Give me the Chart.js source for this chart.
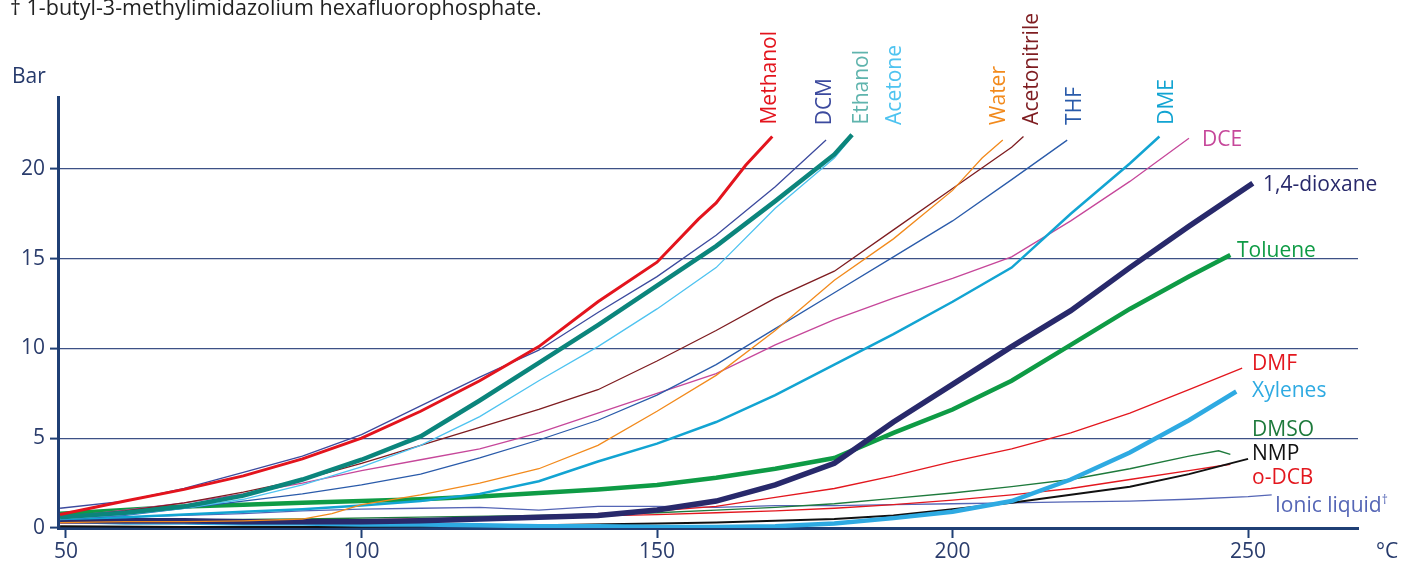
<!DOCTYPE html>
<html>
<head>
<meta charset="utf-8">
<script src="https://cdn.jsdelivr.net/npm/chart.js@4/dist/chart.umd.min.js"></script>
<style>
  body{margin:0;background:#fff;font-family:"Open Sans",sans-serif}
  #wrap{position:relative;width:1403px;height:564px;overflow:hidden}
  #c{position:absolute;left:0;top:0}
  .lbl{position:absolute;font-size:21px;line-height:24px;white-space:nowrap}
  .vlbl{position:absolute;font-size:21px;line-height:24px;white-space:nowrap;writing-mode:vertical-rl;transform:rotate(180deg);bottom:439px}
  .ax{position:absolute;color:#25396b;font-size:21px;line-height:24px}
  #cap{position:absolute;left:10px;top:-7px;font-size:21.5px;line-height:28px;color:#222}
</style>
</head>
<body>
<div id="wrap">
  <canvas id="c" width="1403" height="564"></canvas>
  <div id="cap">† 1-butyl-3-methylimidazolium hexafluorophosphate.</div>
  <div class="ax" style="left:12px;top:63px">Bar</div>
  <div class="ax" style="left:1376px;top:538px">°C</div>
  <div id="labels"></div>
</div>
<script>
// ---- Data (°C, bar) ----
const methanol     = [[49,0.75],[60,1.5],[70,2.15],[80,2.9],[90,3.85],[100,5.0],[110,6.5],[120,8.2],[130,10.1],[140,12.6],[150,14.8],[157,17.2],[160,18.1],[165,20.2],[169.5,21.8]];
const dcm          = [[49,1.1],[60,1.5],[70,2.2],[80,3.1],[90,4.0],[100,5.2],[110,6.8],[120,8.4],[130,9.9],[140,12.0],[150,14.0],[160,16.3],[170,19.0],[178.6,21.6]];
const ethanol      = [[49,0.6],[60,0.85],[70,1.2],[80,1.8],[90,2.7],[100,3.8],[110,5.1],[115,6.1],[120,7.1],[130,9.2],[140,11.3],[150,13.5],[160,15.7],[170,18.2],[180,20.8],[183,21.9]];
const acetone      = [[49,0.5],[60,0.75],[70,1.1],[80,1.6],[90,2.4],[100,3.4],[110,4.6],[120,6.2],[130,8.2],[140,10.1],[150,12.2],[160,14.5],[170,17.8],[180,20.6],[182.5,21.6]];
const water        = [[49,0.3],[60,0.35],[70,0.35],[80,0.4],[90,0.5],[95,0.8],[100,1.3],[110,1.85],[120,2.5],[130,3.3],[140,4.6],[150,6.5],[160,8.5],[170,11.0],[180,13.8],[190,16.1],[200,18.8],[205,20.6],[208.5,21.6]];
const acetonitrile = [[49,0.6],[60,0.95],[70,1.4],[80,2.0],[90,2.7],[100,3.6],[110,4.6],[120,5.6],[130,6.6],[140,7.7],[150,9.3],[160,11.0],[170,12.8],[180,14.3],[190,16.6],[200,18.9],[210,21.2],[212,21.8]];
const thf          = [[49,0.5],[60,0.7],[70,1.1],[80,1.5],[90,1.9],[100,2.4],[110,3.0],[120,3.9],[130,4.9],[140,6.0],[150,7.4],[160,9.1],[170,11.1],[180,13.1],[190,15.1],[200,17.1],[210,19.4],[219.4,21.6]];
const dme          = [[49,0.5],[60,0.6],[70,0.75],[80,0.9],[90,1.05],[100,1.25],[110,1.5],[120,1.9],[130,2.6],[140,3.7],[150,4.7],[160,5.9],[170,7.4],[180,9.1],[190,10.8],[200,12.6],[210,14.5],[220,17.5],[230,20.3],[235,21.8]];
const dce          = [[49,0.6],[60,1.0],[70,1.4],[80,1.9],[90,2.5],[100,3.2],[110,3.8],[120,4.4],[130,5.3],[140,6.4],[150,7.5],[160,8.6],[170,10.2],[180,11.6],[190,12.8],[200,13.9],[210,15.1],[220,17.1],[230,19.3],[240,21.7]];
const dioxane      = [[49,0.4],[60,0.4],[70,0.4],[80,0.35],[90,0.35],[100,0.35],[110,0.4],[120,0.5],[130,0.6],[140,0.7],[150,1.0],[160,1.5],[170,2.4],[180,3.6],[190,5.9],[200,8.0],[210,10.1],[220,12.1],[230,14.5],[240,16.8],[250.8,19.2]];
const toluene      = [[49,0.8],[60,1.0],[70,1.2],[80,1.3],[90,1.4],[100,1.5],[110,1.6],[120,1.75],[130,1.95],[140,2.15],[150,2.4],[160,2.8],[170,3.3],[180,3.9],[190,5.3],[200,6.6],[210,8.2],[220,10.2],[230,12.2],[240,14.0],[247,15.2]];
const dmf          = [[49,0.3],[60,0.3],[70,0.3],[80,0.3],[90,0.35],[100,0.4],[110,0.45],[120,0.5],[130,0.6],[140,0.8],[150,0.95],[160,1.2],[170,1.7],[180,2.2],[190,2.9],[200,3.7],[210,4.4],[220,5.3],[230,6.4],[240,7.7],[249,8.9]];
const xylenes      = [[49,0.4],[60,0.3],[70,0.3],[80,0.25],[90,0.25],[100,0.2],[110,0.2],[120,0.15],[130,0.1],[140,0.1],[150,0.05],[160,0.05],[170,0.1],[180,0.25],[190,0.55],[200,0.9],[210,1.5],[220,2.7],[230,4.2],[240,6.0],[248,7.6]];
const dmso         = [[49,0.4],[70,0.45],[90,0.5],[110,0.6],[130,0.7],[150,0.85],[160,1.0],[170,1.15],[180,1.35],[190,1.65],[200,1.95],[210,2.3],[220,2.7],[230,3.3],[240,4.0],[245,4.3],[247,4.1]];
const nmp          = [[49,0.1],[70,0.05],[90,0.05],[110,0.1],[130,0.15],[150,0.25],[160,0.3],[170,0.4],[180,0.5],[190,0.7],[200,1.05],[210,1.4],[220,1.85],[230,2.3],[240,3.0],[250,3.85]];
const odcb         = [[49,0.3],[70,0.35],[90,0.4],[110,0.5],[130,0.6],[150,0.75],[160,0.85],[170,0.95],[180,1.1],[190,1.3],[200,1.55],[210,1.85],[220,2.2],[230,2.7],[240,3.2],[247,3.55]];
const ionic        = [[49,0.5],[60,0.6],[70,0.7],[80,0.8],[90,0.95],[100,1.05],[110,1.1],[120,1.15],[130,1.0],[140,1.2],[150,1.2],[160,1.15],[170,1.25],[180,1.25],[190,1.3],[200,1.35],[210,1.4],[220,1.45],[230,1.5],[240,1.6],[250,1.75],[254,1.85]];

const xTicks = [50,100,150,200,250];
const yTicks = [0,5,10,15,20];

// ---- Series: name, data, line colour, label colour, width ----
const series = [
  {name:"Methanol",     data:methanol,     color:"#e3141d", lc:"#e3141d", w:3},
  {name:"DCM",          data:dcm,          color:"#3c4a9e", lc:"#3c4a9e", w:1.3},
  {name:"Ethanol",      data:ethanol,      color:"#0b857c", lc:"#5fb4ad", w:4.5},
  {name:"Acetone",      data:acetone,      color:"#4ec3f0", lc:"#4ec3f0", w:1.3},
  {name:"Water",        data:water,        color:"#f28a1c", lc:"#f28a1c", w:1.3},
  {name:"Acetonitrile", data:acetonitrile, color:"#7e1c20", lc:"#7e1c20", w:1.3},
  {name:"THF",          data:thf,          color:"#2a5baa", lc:"#2a5baa", w:1.3},
  {name:"DME",          data:dme,          color:"#12a4d2", lc:"#12a4d2", w:2.5},
  {name:"DCE",          data:dce,          color:"#c6479a", lc:"#c6479a", w:1.3},
  {name:"1,4-dioxane",  data:dioxane,      color:"#28296b", lc:"#28296b", w:5.5},
  {name:"Toluene",      data:toluene,      color:"#0e9b45", lc:"#0e9b45", w:4.5},
  {name:"DMF",          data:dmf,          color:"#e3171e", lc:"#e3171e", w:1.3},
  {name:"Xylenes",      data:xylenes,      color:"#2eaae2", lc:"#2eaae2", w:4.5},
  {name:"DMSO",         data:dmso,         color:"#1e7a3c", lc:"#1e7a3c", w:1.3},
  {name:"NMP",          data:nmp,          color:"#111111", lc:"#111111", w:2},
  {name:"o-DCB",        data:odcb,         color:"#e3171e", lc:"#e3171e", w:1.3},
  {name:"Ionic liquid", data:ionic,        color:"#5566b6", lc:"#5566b6", w:1.3}
];

// ---- Label placement (vertical ones at top, horizontal on the right) ----
const vertLabels = {"Methanol":768,"DCM":823,"Ethanol":860,"Acetone":893,"Water":997,"Acetonitrile":1030,"THF":1073,"DME":1165};
const horzLabels = {"DCE":[1202,138],"1,4-dioxane":[1263,183],"Toluene":[1237,249],"DMF":[1252,362],"Xylenes":[1252,389],
                    "DMSO":[1252,428],"NMP":[1252,452],"o-DCB":[1252,476],"Ionic liquid":[1275,500]};

const box = document.getElementById("labels");
for(const s of series){
  const d = document.createElement("div");
  d.textContent = s.name;
  d.style.color = s.lc;
  if(vertLabels[s.name] !== undefined){
    d.className = "vlbl";
    d.style.left = (vertLabels[s.name]-12) + "px";
  } else {
    const [x,y] = horzLabels[s.name];
    d.className = "lbl";
    d.style.left = x + "px";
    d.style.top = (y-12) + "px";
    if(s.name === "Ionic liquid"){
      const sup = document.createElement("sup");
      sup.textContent = "†"; sup.style.fontSize = "12px";
      d.appendChild(sup);
    }
  }
  box.appendChild(d);
}

const AXIS = "#1f3f75", GRID = "#3d5186", TXT = "#2a3c6c";

new Chart(document.getElementById("c"), {
  type: "line",
  data: {
    datasets: series.map(s=>({
      label: s.name,
      data: s.data.map(([x,y])=>({x,y})),
      borderColor: s.color,
      borderWidth: s.w,
      pointRadius: 0,
      tension: 0,
      fill: false
    }))
  },
  options: {
    responsive: false,
    animation: false,
    devicePixelRatio: 1,
    layout: {padding: {top: 97, right: 45, left: 0, bottom: 0}},
    plugins: {legend: {display: false}, tooltip: {enabled: false}},
    scales: {
      x: {
        type: "linear", min: 48.65, max: 268.6,
        afterBuildTicks: sc => { sc.ticks = xTicks.map(v=>({value:v})); },
        afterFit: sc => { sc.height = 36; },
        grid: {drawOnChartArea: false, drawTicks: true, tickLength: 10, tickColor: AXIS, tickWidth: 2},
        border: {color: AXIS, width: 3},
        ticks: {color: TXT, font: {family: "Open Sans", size: 21}, padding: 1, maxRotation: 0}
      },
      y: {
        min: 0, max: 24,
        afterBuildTicks: sc => { sc.ticks = yTicks.map(v=>({value:v})); },
        afterFit: sc => { sc.width = 58; },
        grid: {color: GRID, lineWidth: 1.2, tickLength: 8, tickColor: AXIS, tickWidth: 2},
        border: {color: AXIS, width: 3},
        ticks: {color: TXT, font: {family: "Open Sans", size: 21}, padding: 5}
      }
    }
  }
});
</script>
</body>
</html>
